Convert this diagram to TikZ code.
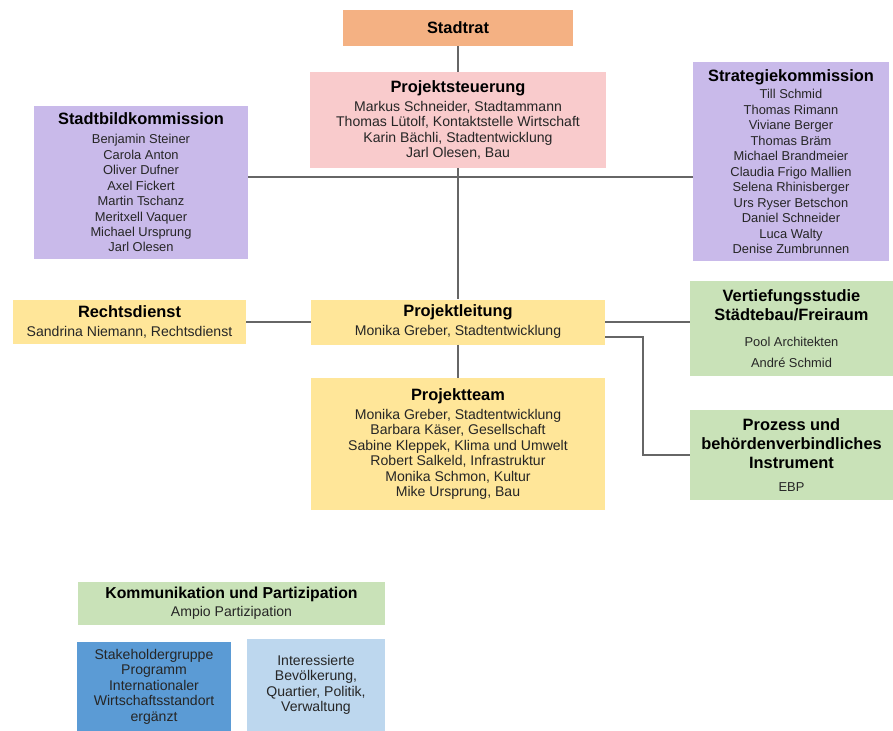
\documentclass[tikz,border=0pt]{standalone}
\usepackage{fontspec}
\setmainfont{Liberation Sans}

\definecolor{ratorange}{HTML}{F4B183}
\definecolor{steuerpink}{HTML}{F9CBCC}
\definecolor{kommlila}{HTML}{C9BAEA}
\definecolor{leitgelb}{HTML}{FFE699}
\definecolor{studiegruen}{HTML}{C9E2B8}
\definecolor{stakeblau}{HTML}{5B9BD5}
\definecolor{bevhellblau}{HTML}{BDD7EE}

\newcommand{\boxhead}[1]{{\fontsize{14}{13.2}\selectfont\bfseries\color{black}#1}}

\begin{document}
\begin{tikzpicture}[x=0.03cm,y=-0.03cm,
  orgbox/.style={rectangle,inner sep=0pt,align=center,text=black!85,
    font=\fontsize{12}{13.2}\selectfont},
  listbox/.style={orgbox,font=\fontsize{11}{13.2}\selectfont},
  link/.style={draw=black!60,line width=1.1pt}]
\useasboundingbox (0,0) rectangle (893,731);

\node[orgbox,fill=ratorange,minimum width=6.9cm,minimum height=1.08cm]
  (stadtrat) at (458,28) {\boxhead{Stadtrat}};
\node[orgbox,fill=steuerpink,minimum width=8.88cm,minimum height=2.88cm]
  (steuerung) at (458,120) {\boxhead{Projektsteuerung}\\[3pt]
  Markus Schneider, Stadtammann\\
  Thomas Lütolf, Kontaktstelle Wirtschaft\\
  Karin Bächli, Stadtentwicklung\\
  Jarl Olesen, Bau};
\node[listbox,fill=kommlila,minimum width=6.42cm,minimum height=4.59cm]
  (bildkom) at (141,182.5) {\boxhead{Stadtbildkommission}\\[3pt]
  Benjamin Steiner\\ Carola Anton\\ Oliver Dufner\\ Axel Fickert\\
  Martin Tschanz\\ Meritxell Vaquer\\ Michael Ursprung\\ Jarl Olesen};
\node[listbox,fill=kommlila,minimum width=5.88cm,minimum height=5.97cm]
  (stratkom) at (791,161.5) {\boxhead{Strategiekommission}\\[2pt]
  Till Schmid\\ Thomas Rimann\\ Viviane Berger\\ Thomas Bräm\\
  Michael Brandmeier\\ Claudia Frigo Mallien\\ Selena Rhinisberger\\
  Urs Ryser Betschon\\ Daniel Schneider\\ Luca Walty\\ Denise Zumbrunnen};

\node[orgbox,fill=leitgelb,minimum width=7.0cm,minimum height=1.32cm]
  (recht) at (129.5,322) {\boxhead{Rechtsdienst}\\[3pt]
  Sandrina Niemann, Rechtsdienst};
\node[orgbox,fill=leitgelb,minimum width=8.82cm,minimum height=1.35cm]
  (leitung) at (458,322) {\boxhead{Projektleitung}\\[3pt]
  Monika Greber, Stadtentwicklung};
\node[orgbox,fill=leitgelb,minimum width=8.82cm,minimum height=3.96cm]
  (team) at (458,444) {\boxhead{Projektteam}\\[3pt]
  Monika Greber, Stadtentwicklung\\
  Barbara Käser, Gesellschaft\\
  Sabine Kleppek, Klima und Umwelt\\
  Robert Salkeld, Infrastruktur\\
  Monika Schmon, Kultur\\
  Mike Ursprung, Bau};

\node[listbox,fill=studiegruen,minimum width=6.09cm,minimum height=2.85cm]
  (vertief) at (791.5,328.5) {\boxhead{Vertiefungsstudie}\\[3pt]
  \boxhead{Städtebau/Freiraum}\\[9pt]
  Pool Architekten\\[5pt] André Schmid};
\node[listbox,fill=studiegruen,minimum width=6.09cm,minimum height=2.7cm]
  (prozess) at (791.5,455) {\boxhead{Prozess und}\\[3pt]
  \boxhead{behördenverbindliches}\\[3pt]
  \boxhead{Instrument}\\[7pt] EBP};

\node[orgbox,fill=studiegruen,minimum width=9.21cm,minimum height=1.29cm]
  (kommun) at (231.5,603.5) {{\fontsize{13.5}{13.2}\selectfont\bfseries\color{black}Kommunikation und Partizipation}\\[2pt]
  Ampio Partizipation};
\node[orgbox,fill=stakeblau,minimum width=4.59cm,minimum height=2.67cm]
  (stake) at (154,686.5) {Stakeholdergruppe\\ Programm\\ Internationaler\\
  Wirtschaftsstandort\\ ergänzt};
\node[orgbox,fill=bevhellblau,minimum width=4.14cm,minimum height=2.76cm]
  (bevoelk) at (316,685) {Interessierte\\ Bevölkerung,\\ Quartier, Politik,\\
  Verwaltung};

\coordinate (hub) at (458,177);
\coordinate (bend) at (643,337);

\draw[link] (stadtrat) -- (steuerung);
\draw[link] (steuerung) -- (leitung);
\draw[link] (leitung) -- (team);
\draw[link] (bildkom.east |- hub) 
  -- (stratkom.west |- hub);
\draw[link] (recht) -- (leitung);
\draw[link] (leitung.east) 
  -- (leitung.east -| vertief.west);
\draw[link] (leitung.east |- bend) 
  -- (bend) 
  |- (prozess.west);
\end{tikzpicture}
\end{document}
